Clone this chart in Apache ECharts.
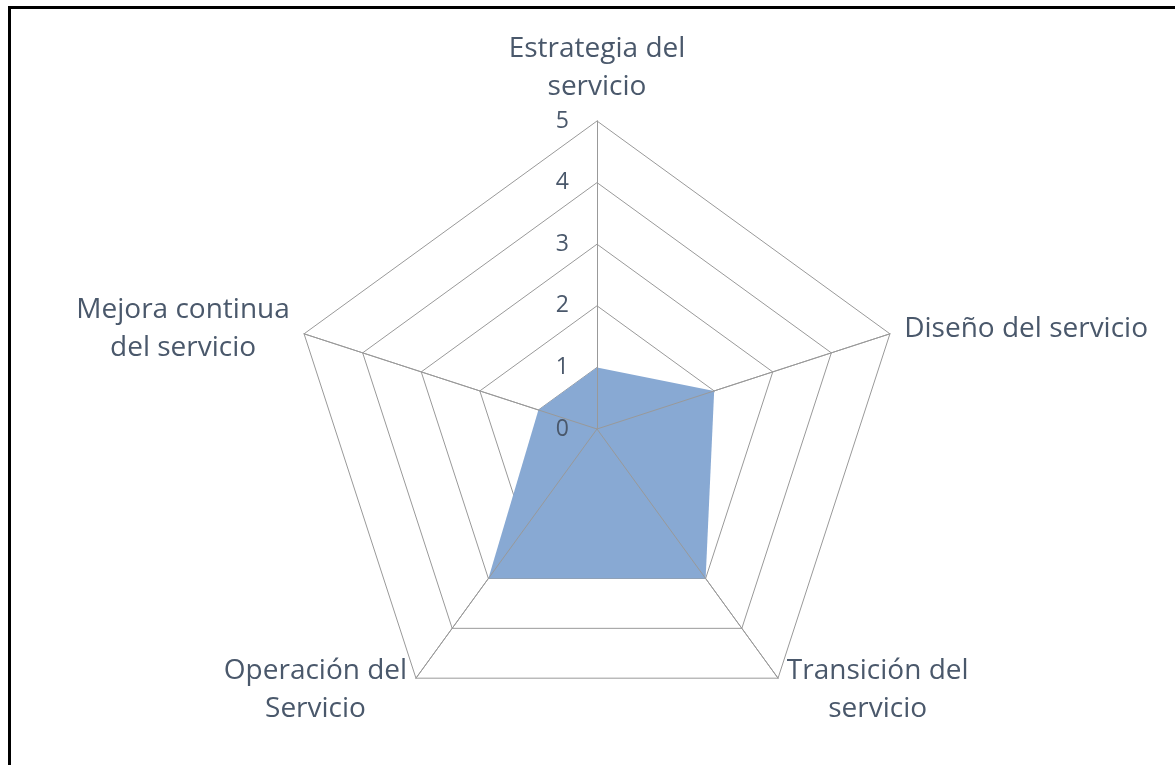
<!DOCTYPE html>
<html>
<head>
<meta charset="utf-8">
<script src="https://cdn.jsdelivr.net/npm/echarts@6/dist/echarts.min.js"></script>
<style>
  html, body { margin: 0; padding: 0; background: #fff; }
  #frame {
    position: absolute; left: 8px; top: 6px; width: 1400px; height: 1000px;
    border-left: 3px solid #000; border-top: 3px solid #000;
  }
  #radar { position: absolute; left: 0; top: 0; width: 1175px; height: 765px; }
</style>
</head>
<body>
<div id="frame"></div>
<div id="radar"></div>
<script>
// phases of the service lifecycle, clockwise from the top
const categories = [
  'Estrategia del\nservicio',
  'Diseño del servicio',
  'Transición del\nservicio',
  'Operación del\nServicio',
  'Mejora continua\ndel servicio'
];
const scores = [1, 2, 3, 3, 1];
const maxScore = 5;

var chartDom = document.getElementById('radar');
var radarChart = echarts.init(chartDom);

// echarts lays radar indicators out counter-clockwise, so walk the list backwards
const order = [0, 4, 3, 2, 1];
const textColor = '#4A586B';
const gridColor = '#999999';
const center = [597, 429];
const radius = 308;

const indicator = order.map(function (i) {
  return { name: categories[i], min: 0, max: maxScore };
});

// second radar only draws the spokes + value labels on top of the filled area
const overlayIndicator = order.map(function (i, k) {
  const item = { name: '', min: 0, max: maxScore };
  if (k === 0) {
    item.axisLabel = { show: true, showMinLabel: true, showMaxLabel: true };
  }
  return item;
});

var radarOption = {
  animation: false,
  radar: [
    {
      center: center,
      radius: radius,
      startAngle: 90,
      shape: 'polygon',
      splitNumber: 5,
      indicator: indicator,
      axisName: {
        color: textColor,
        fontFamily: 'Open Sans',
        fontSize: 28,
        lineHeight: 38,
        formatter: function (name) {
          return name.split('\n').map(function (s) { return '{c|' + s + '}'; }).join('\n');
        },
        rich: {
          c: {
            align: 'center',
            color: textColor,
            fontFamily: 'Open Sans',
            fontSize: 28,
            lineHeight: 38
          }
        }
      },
      nameGap: 15,
      axisLine: { lineStyle: { color: gridColor, width: 1 } },
      splitLine: { lineStyle: { color: gridColor, width: 1 } },
      splitArea: { show: false },
      axisTick: { show: false },
      axisLabel: { show: false }
    },
    {
      z: 5,
      center: center,
      radius: radius,
      startAngle: 90,
      shape: 'polygon',
      splitNumber: 5,
      indicator: overlayIndicator,
      axisName: { show: false },
      axisLine: { lineStyle: { color: gridColor, width: 1 } },
      splitLine: { show: false },
      splitArea: { show: false },
      axisTick: { show: false },
      axisLabel: {
        show: false,
        margin: 28,
        color: textColor,
        fontFamily: 'Open Sans',
        fontSize: 23
      }
    }
  ],
  series: [
    {
      type: 'radar',
      radarIndex: 0,
      symbol: 'none',
      lineStyle: { width: 0 },
      areaStyle: { color: '#88A9D3', opacity: 1 },
      data: [
        { value: order.map(function (i) { return scores[i]; }) }
      ]
    }
  ]
};

radarOption && radarChart.setOption(radarOption);
</script>
</body>
</html>
